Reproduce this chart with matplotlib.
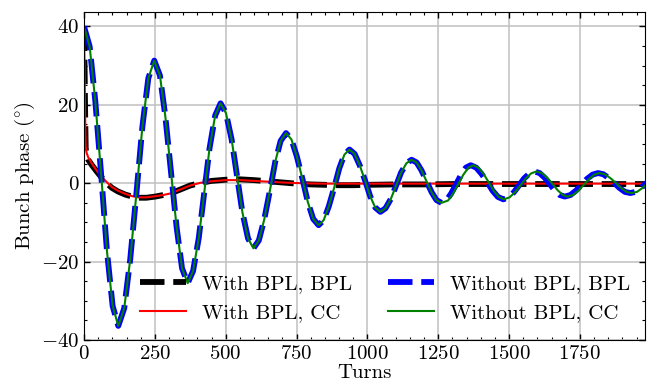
import matplotlib
matplotlib.use("Agg")
import matplotlib.pyplot as plt
from matplotlib.ticker import MultipleLocator

# =================
# DATA
# =================
with_turns = [0, 2, 4, 6, 9, 15, 28, 45, 64, 80, 99, 120, 146, 170, 193, 220,
              252, 280, 305, 340, 374, 410, 450, 500, 550, 600, 650, 700, 750,
              800, 850, 900, 950, 1000, 1100, 1200, 1300, 1400, 1600, 1800, 1990]
with_bpl = [40, 30, 18, 9, 7.2, 6.0, 4.6, 3.0, 1.3, 0.0, -1.2, -2.1, -2.9, -3.4,
            -3.7, -3.7, -3.4, -3.0, -2.6, -1.6, -0.6, 0.1, 0.6, 0.9, 1.0, 0.8,
            0.5, 0.2, -0.1, -0.3, -0.4, -0.5, -0.5, -0.4, -0.3, -0.3, -0.2,
            -0.2, -0.2, -0.2, -0.2]
with_cc = [40, 29, 17, 9.5, 7.8, 6.6, 5.0, 3.2, 1.5, 0.3, -1.0, -1.9, -2.7, -3.3,
           -3.6, -3.6, -3.3, -3.0, -2.6, -1.6, -0.6, 0.1, 0.5, 0.8, 0.8, 0.6,
           0.4, 0.2, 0.05, -0.05, -0.1, -0.1, -0.1, -0.1, -0.1, -0.1, -0.1,
           -0.1, -0.1, -0.1, -0.1]

without_turns = [0, 20, 40, 61, 81, 101, 121,
                 142, 163, 185, 206, 227, 248,
                 268, 287, 307, 327, 346, 366,
                 385, 405, 424, 443, 463, 482,
                 501, 521, 540, 559, 579, 598,
                 617, 636, 656, 675, 694, 713,
                 732, 751, 771, 790, 809, 828,
                 846, 864, 883, 901, 919, 937,
                 955, 973, 992, 1010, 1028, 1046,
                 1064, 1083, 1101, 1119, 1138, 1156,
                 1174, 1191, 1209, 1227, 1244, 1262,
                 1279, 1296, 1314, 1331, 1348, 1365,
                 1384, 1403, 1423, 1442, 1461, 1480,
                 1498, 1517, 1535, 1553, 1572, 1590,
                 1608, 1626, 1644, 1661, 1679, 1697,
                 1717, 1736, 1756, 1775, 1795, 1814,
                 1833, 1852, 1871, 1890, 1909, 1928,
                 1947, 1966, 1985]
without_cc_turns = [0, 20, 40, 61, 81, 101, 121,
                    142, 163, 185, 206, 227, 248,
                    268, 287, 307, 327, 346, 366,
                    385, 405, 424, 443, 463, 482,
                    501, 521, 540, 559, 579, 598,
                    617, 636, 656, 675, 694, 713,
                    732, 751, 771, 790, 809, 828,
                    846, 864, 883, 901, 919, 937,
                    955, 973, 992, 1010, 1028, 1046,
                    1064, 1083, 1101, 1119, 1138, 1156,
                    1174, 1191, 1209, 1227, 1244, 1262,
                    1285, 1303, 1321, 1339, 1357, 1374,
                    1392, 1410, 1428, 1446, 1464, 1482,
                    1502, 1521, 1540, 1559, 1578, 1596,
                    1616, 1635, 1654, 1672, 1690, 1706,
                    1726, 1745, 1764, 1783, 1801, 1818,
                    1838, 1858, 1877, 1896, 1915, 1933,
                    1952, 1971, 1990]
without_vals = [40, 34.9, 20.9, 1.8, -17.3, -31.3, -36.4,
                -31.9, -19.5, -2.6, 14.4, 26.8, 31.3,
                27.5, 17.1, 2.9, -11.3, -21.7, -25.5,
                -22.4, -14.0, -2.6, 8.9, 17.3, 20.4,
                17.9, 11.2, 1.9, -7.4, -14.1, -16.6,
                -14.6, -9.3, -1.9, 5.5, 10.8, 12.8,
                11.2, 6.9, 1.1, -4.8, -9.1, -10.7,
                -9.4, -5.9, -1.1, 3.8, 7.3, 8.6,
                7.5, 4.6, 0.7, -3.3, -6.2, -7.3,
                -6.4, -4.0, -0.7, 2.7, 5.1, 6.0,
                5.3, 3.3, 0.5, -2.3, -4.3, -5.0,
                -4.4, -2.6, -0.2, 2.2, 4.0, 4.6,
                4.0, 2.4, 0.3, -1.9, -3.5, -4.1,
                -3.6, -2.3, -0.6, 1.2, 2.5, 3.0,
                2.6, 1.4, -0.2, -1.8, -3.0, -3.4,
                -3.0, -1.9, -0.4, 1.1, 2.2, 2.6,
                2.3, 1.3, 0.1, -1.2, -2.2, -2.5,
                -2.2, -1.2, 0.1]

labels = ["With BPL, BPL", "With BPL, CC", "Without BPL, BPL", "Without BPL, CC"]

# =================
# STYLE
# =================
plt.rcParams["font.family"] = "serif"
plt.rcParams["font.serif"] = ["cmr10"]
plt.rcParams["mathtext.fontset"] = "cm"
plt.rcParams["axes.formatter.use_mathtext"] = True
plt.rcParams["font.size"] = 15

fig = plt.figure(figsize=(6.47, 3.91), dpi=100)
ax = fig.add_axes([84 / 647, 1 - 340 / 391, 561 / 647, 328 / 391])

dash = (0, (4.2, 1.5))
ax.plot(with_turns, with_bpl, color="black", lw=4.2, ls=dash, label=labels[0])
ax.plot(with_turns, with_cc, color="red", lw=1.5, label=labels[1])
ax.plot(without_turns, without_vals, color="blue", lw=4.2, ls=dash, label=labels[2])
ax.plot(without_cc_turns, without_vals, color="green", lw=1.5, label=labels[3])

ax.set_xlim(0, 1980)
ax.set_ylim(-40, 43.7)
ax.xaxis.set_major_locator(MultipleLocator(250))
ax.xaxis.set_minor_locator(MultipleLocator(50))
ax.yaxis.set_major_locator(MultipleLocator(20))
ax.yaxis.set_minor_locator(MultipleLocator(5))
ax.tick_params(which="both", direction="in", top=True, right=True)
ax.tick_params(which="major", length=4, width=1)
ax.tick_params(which="minor", length=2.2, width=0.8)
ax.grid(True, which="major", color="#c0c0c0", lw=1.1)
ax.set_axisbelow(True)

ax.set_xlabel("Turns", labelpad=1)
ax.set_ylabel(r"Bunch phase ($\!^\circ\!$)", labelpad=3)

ax.legend(loc="lower left", bbox_to_anchor=(0.068, 0.0), ncol=2,
          frameon=False, handlelength=2.2, columnspacing=1.7,
          labelspacing=0.5, borderpad=0.35, handletextpad=0.8)

fig.savefig("out.png", dpi=100)
